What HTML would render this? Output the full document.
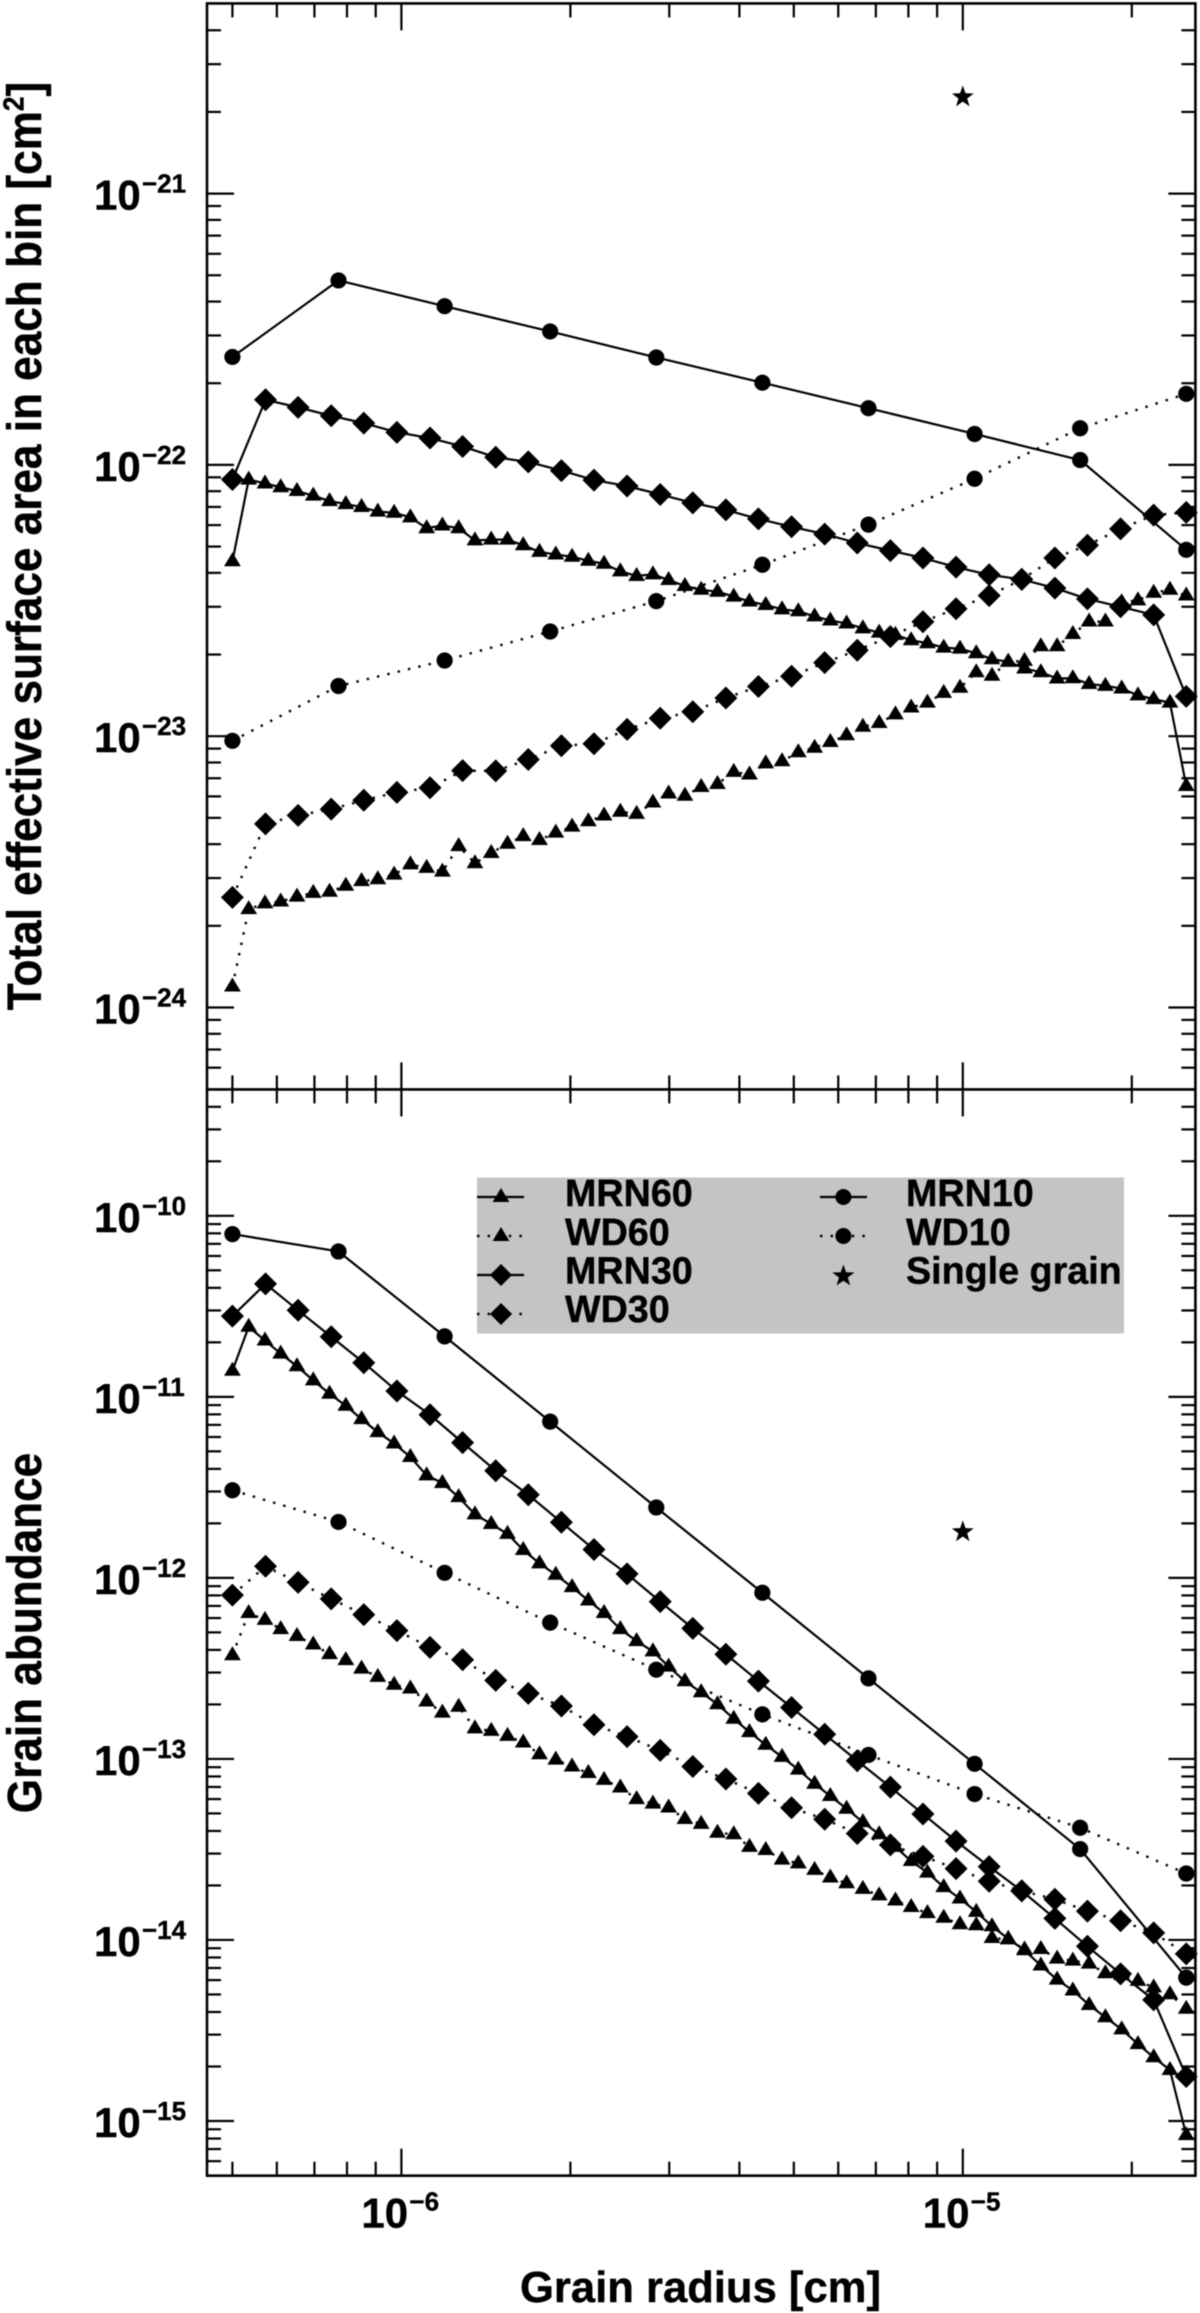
<!DOCTYPE html>
<html lang="en">
<head>
<meta charset="utf-8">
<title>Grain surface area and abundance</title>
<style>
html,body{margin:0;padding:0;background:#fff;width:1200px;height:2313px;overflow:hidden}
svg{display:block;font-family:"Liberation Sans",Arial,sans-serif;font-weight:bold;fill:#000;filter:blur(0.5px)}
text{stroke:#000;stroke-width:0.4px}
</style>
</head>
<body>
<svg id="chart" xmlns="http://www.w3.org/2000/svg" width="1200" height="2313" viewBox="0 0 1200 2313">
  <rect x="0" y="0" width="1200" height="2313" fill="#fff"/>
  <g id="plot-layer"></g>

  <text transform="translate(41,546) rotate(-90) scale(1.012,1.1)" text-anchor="middle" font-size="43.6">Total effective surface area in each bin [cm<tspan font-size="26" dy="-16">2</tspan><tspan dy="16">]</tspan></text>
  <text transform="translate(41,1633) rotate(-90) scale(1.012,1.1)" text-anchor="middle" font-size="43.6">Grain abundance</text>
  <text x="700.5" y="2302" text-anchor="middle" font-size="43.6">Grain radius [cm]</text>

  <g>
    <rect x="477" y="1177.5" width="647" height="156" fill="#c4c4c4"/>
    <g>
      <line x1="477" x2="524" y1="1197" y2="1197" stroke="#000" stroke-width="2.2"/>
      <path d="M492.6 1202L501 1188L509.4 1202Z"/>
      <text x="565" y="1206" font-size="37.7">MRN60</text>
    </g>
    <g>
      <line x1="477" x2="524" y1="1236" y2="1236" stroke="#000" stroke-width="2.4" stroke-dasharray="2.4 8.2"/>
      <path d="M492.6 1241L501 1227L509.4 1241Z"/>
      <text x="565" y="1245" font-size="37.7">WD60</text>
    </g>
    <g>
      <line x1="477" x2="524" y1="1275" y2="1275" stroke="#000" stroke-width="2.2"/>
      <path d="M490 1275L501 1264L512 1275L501 1286Z"/>
      <text x="565" y="1283.5" font-size="37.7">MRN30</text>
    </g>
    <g>
      <line x1="477" x2="524" y1="1314" y2="1314" stroke="#000" stroke-width="2.4" stroke-dasharray="2.4 8.2"/>
      <path d="M490 1314L501 1303L512 1314L501 1325Z"/>
      <text x="565" y="1322" font-size="37.7">WD30</text>
    </g>
    <g>
      <line x1="820" x2="867" y1="1197" y2="1197" stroke="#000" stroke-width="2.2"/>
      <circle cx="843.4" cy="1197" r="8"/>
      <text x="906" y="1206" font-size="37.7">MRN10</text>
    </g>
    <g>
      <line x1="820" x2="867" y1="1236" y2="1236" stroke="#000" stroke-width="2.4" stroke-dasharray="2.4 8.2"/>
      <circle cx="843.4" cy="1236" r="8"/>
      <text x="906" y="1245" font-size="37.7">WD10</text>
    </g>
    <g>
      <path d="M843.4 1264.5L846.1 1272.3L854.4 1272.5L847.8 1277.5L850.2 1285.4L843.4 1280.7L836.6 1285.4L839 1277.5L832.4 1272.5L840.7 1272.3Z"/>
      <text x="906" y="1283.5" font-size="37.7">Single grain</text>
    </g>
  </g>
  <g id="frame-layer"></g>
</svg>

<script>
// log10 of grain radius [cm] for each size-bin count
const logRadius10 = [-6.301,-6.112,-5.923,-5.735,-5.546,-5.357,-5.168,-4.979,-4.791,-4.602];
const logRadius30 = [-6.301,-6.242,-6.184,-6.125,-6.067,-6.008,-5.949,-5.891,-5.832,-5.774,-5.715,-5.657,-5.598,-5.539,-5.481,-5.422,-5.364,-5.305,-5.246,-5.188,-5.129,-5.071,-5.012,-4.953,-4.895,-4.836,-4.778,-4.719,-4.660,-4.602];
const logRadius60 = [-6.301,-6.272,-6.243,-6.215,-6.186,-6.157,-6.128,-6.099,-6.071,-6.042,-6.013,-5.984,-5.955,-5.927,-5.898,-5.869,-5.840,-5.811,-5.783,-5.754,-5.725,-5.696,-5.667,-5.639,-5.610,-5.581,-5.552,-5.524,-5.495,-5.466,-5.437,-5.408,-5.380,-5.351,-5.322,-5.293,-5.264,-5.236,-5.207,-5.178,-5.149,-5.120,-5.092,-5.063,-5.034,-5.005,-4.976,-4.948,-4.919,-4.890,-4.861,-4.832,-4.804,-4.775,-4.746,-4.717,-4.688,-4.660,-4.631,-4.602];

// top panel: log10 total effective surface area [cm^2]
const areaMRN10 = [-21.602,-21.320,-21.415,-21.508,-21.604,-21.697,-21.791,-21.886,-21.982,-22.313];
const areaWD10 = [-23.017,-22.815,-22.721,-22.614,-22.502,-22.368,-22.220,-22.051,-21.865,-21.738];
const areaMRN30 = [-22.054,-21.760,-21.788,-21.819,-21.846,-21.880,-21.901,-21.932,-21.972,-21.989,-22.021,-22.056,-22.078,-22.109,-22.140,-22.166,-22.199,-22.228,-22.255,-22.288,-22.316,-22.343,-22.377,-22.405,-22.422,-22.454,-22.494,-22.523,-22.553,-22.853];
const areaWD30 = [-23.594,-23.323,-23.292,-23.269,-23.236,-23.207,-23.190,-23.127,-23.128,-23.086,-23.035,-23.028,-22.975,-22.934,-22.910,-22.859,-22.817,-22.779,-22.729,-22.683,-22.633,-22.578,-22.530,-22.482,-22.422,-22.343,-22.296,-22.236,-22.185,-22.175];
const areaMRN60 = [-22.348,-22.047,-22.061,-22.075,-22.089,-22.106,-22.126,-22.137,-22.148,-22.165,-22.169,-22.186,-22.226,-22.216,-22.226,-22.271,-22.268,-22.268,-22.289,-22.313,-22.323,-22.331,-22.346,-22.357,-22.385,-22.402,-22.396,-22.417,-22.439,-22.453,-22.460,-22.478,-22.496,-22.509,-22.525,-22.532,-22.551,-22.566,-22.577,-22.595,-22.611,-22.619,-22.639,-22.650,-22.666,-22.670,-22.687,-22.709,-22.718,-22.743,-22.757,-22.780,-22.779,-22.800,-22.807,-22.817,-22.842,-22.856,-22.869,-23.176];
const areaWD60 = [-23.915,-23.630,-23.609,-23.602,-23.584,-23.570,-23.566,-23.544,-23.527,-23.520,-23.503,-23.465,-23.478,-23.492,-23.398,-23.461,-23.423,-23.389,-23.361,-23.375,-23.348,-23.326,-23.306,-23.285,-23.271,-23.279,-23.237,-23.204,-23.212,-23.180,-23.169,-23.124,-23.134,-23.093,-23.085,-23.052,-23.035,-23.014,-22.989,-22.958,-22.944,-22.912,-22.887,-22.869,-22.833,-22.814,-22.757,-22.770,-22.718,-22.715,-22.661,-22.661,-22.616,-22.570,-22.570,-22.499,-22.492,-22.464,-22.453,-22.474];
const areaSingle = [-20.644];

// bottom panel: log10 grain abundance
const abundMRN10 = [-10.101,-10.197,-10.666,-11.137,-11.611,-12.082,-12.555,-13.027,-13.498,-14.208];
const abundWD10 = [-11.516,-11.691,-11.972,-12.247,-12.507,-12.754,-12.978,-13.194,-13.380,-13.633];
const abundMRN30 = [-10.554,-10.376,-10.522,-10.668,-10.812,-10.968,-11.099,-11.253,-11.408,-11.541,-11.693,-11.843,-11.978,-12.131,-12.279,-12.422,-12.570,-12.716,-12.864,-13.010,-13.156,-13.304,-13.454,-13.595,-13.729,-13.881,-14.035,-14.187,-14.331,-14.754];
const abundWD30 = [-12.095,-11.936,-12.025,-12.116,-12.203,-12.291,-12.384,-12.452,-12.566,-12.638,-12.708,-12.811,-12.877,-12.953,-13.042,-13.111,-13.190,-13.270,-13.333,-13.412,-13.475,-13.538,-13.606,-13.676,-13.729,-13.775,-13.841,-13.894,-13.961,-14.077];
const abundMRN60 = [-10.845,-10.602,-10.678,-10.750,-10.820,-10.898,-10.972,-11.038,-11.112,-11.184,-11.247,-11.321,-11.423,-11.465,-11.543,-11.638,-11.691,-11.746,-11.835,-11.909,-11.972,-12.040,-12.114,-12.183,-12.272,-12.338,-12.395,-12.479,-12.560,-12.621,-12.687,-12.767,-12.841,-12.911,-12.978,-13.048,-13.126,-13.194,-13.264,-13.338,-13.405,-13.475,-13.553,-13.617,-13.697,-13.760,-13.834,-13.913,-13.982,-14.046,-14.130,-14.208,-14.268,-14.348,-14.416,-14.483,-14.564,-14.637,-14.707,-15.067];
const abundWD60 = [-12.416,-12.183,-12.221,-12.272,-12.310,-12.357,-12.410,-12.443,-12.490,-12.536,-12.579,-12.600,-12.672,-12.733,-12.701,-12.820,-12.834,-12.862,-12.898,-12.963,-12.993,-13.031,-13.067,-13.105,-13.147,-13.211,-13.236,-13.257,-13.321,-13.348,-13.397,-13.405,-13.475,-13.492,-13.545,-13.566,-13.602,-13.644,-13.676,-13.707,-13.743,-13.771,-13.807,-13.841,-13.866,-13.902,-13.908,-13.978,-13.986,-14.041,-14.039,-14.092,-14.103,-14.120,-14.173,-14.183,-14.215,-14.251,-14.289,-14.369];
const abundSingle = [-11.746];

// single-grain radius (log10 cm)
const logRadiusSingle = [-5];

// tick labels
const xDecades = [-6, -5];
const xTickLabels = ['\u22126', '\u22125'];
const topDecades = [-21, -22, -23, -24];
const topTickLabels = ['\u221221', '\u221222', '\u221223', '\u221224'];
const bottomDecades = [-10, -11, -12, -13, -14, -15];
const bottomTickLabels = ['\u221210', '\u221211', '\u221212', '\u221213', '\u221214', '\u221215'];

const NS = 'http://www.w3.org/2000/svg';
const plotLayer = document.getElementById('plot-layer');
const frameLayer = document.getElementById('frame-layer');

const frameLeft = 207, frameRight = 1195.4, frameTop = 3.4, frameMid = 1089.4, frameBottom = 2175.7;

function xScale(v) { return 401.4 + (v + 6) * 561.4; }
function yTop(v) { return 193.6 + (-21 - v) * 271.3; }
function yBottom(v) { return 1215.8 + (-10 - v) * 181.04; }

function make(tag, attrs, parent) {
  const el = document.createElementNS(NS, tag);
  for (const k in attrs) el.setAttribute(k, attrs[k]);
  parent.appendChild(el);
  return el;
}

function drawMarker(kind, x, y, parent) {
  let el;
  if (kind === 'circle') {
    el = make('circle', { cx: x.toFixed(2), cy: y.toFixed(2), r: 8.1 }, parent);
  } else if (kind === 'diamond') {
    const h = 11.5;
    el = make('path', { d: `M${x - h} ${y}L${x} ${y - h}L${x + h} ${y}L${x} ${y + h}Z` }, parent);
  } else if (kind === 'triangle') {
    el = make('path', { d: `M${x - 8.4} ${y + 7}L${x} ${y - 7}L${x + 8.4} ${y + 7}Z` }, parent);
  } else {
    let d = '';
    for (let i = 0; i < 10; i++) {
      const r = i % 2 ? 4.6 : 11.5;
      const a = -Math.PI / 2 + i * Math.PI / 5;
      d += (i ? 'L' : 'M') + (x + r * Math.cos(a)).toFixed(2) + ' ' + (y + r * Math.sin(a)).toFixed(2);
    }
    el = make('path', { d: d + 'Z' }, parent);
  }
  return el;
}

function drawSeries(name, xs, ys, yFn, kind, dotted) {
  const g = make('g', {}, plotLayer);
  
  
  // triangle symbols sit with the line below their mid-height
  const lineDrop = kind === 'triangle' ? 2 : 0;
  const pts = ys.map((v, i) => xScale(xs[i]).toFixed(2) + ',' + (yFn(v) + lineDrop).toFixed(2)).join(' ');
  const line = make('polyline', { points: pts, fill: 'none', stroke: '#000', 'stroke-width': dotted ? 2.4 : 2.2, 'stroke-linejoin': 'round' }, g);
  
  
  if (dotted) line.setAttribute('stroke-dasharray', '2.4 8.2');
  ys.forEach((v, i) => {
    const m = drawMarker(kind, xScale(xs[i]), yFn(v), g);
    
    
  });
}

function drawSingle(name, xs, ys, yFn) {
  const m = drawMarker('star', xScale(xs[0]), yFn(ys[0]), plotLayer);
  
  
}

drawSeries('top-mrn60', logRadius60, areaMRN60, yTop, 'triangle', false);
drawSeries('top-wd60', logRadius60, areaWD60, yTop, 'triangle', true);
drawSeries('top-mrn30', logRadius30, areaMRN30, yTop, 'diamond', false);
drawSeries('top-wd30', logRadius30, areaWD30, yTop, 'diamond', true);
drawSeries('top-mrn10', logRadius10, areaMRN10, yTop, 'circle', false);
drawSeries('top-wd10', logRadius10, areaWD10, yTop, 'circle', true);
drawSingle('top-single-grain', logRadiusSingle, areaSingle, yTop);

drawSeries('bottom-mrn60', logRadius60, abundMRN60, yBottom, 'triangle', false);
drawSeries('bottom-wd60', logRadius60, abundWD60, yBottom, 'triangle', true);
drawSeries('bottom-mrn30', logRadius30, abundMRN30, yBottom, 'diamond', false);
drawSeries('bottom-wd30', logRadius30, abundWD30, yBottom, 'diamond', true);
drawSeries('bottom-mrn10', logRadius10, abundMRN10, yBottom, 'circle', false);
drawSeries('bottom-wd10', logRadius10, abundWD10, yBottom, 'circle', true);
drawSingle('bottom-single-grain', logRadiusSingle, abundSingle, yBottom);

function tickLine(x1, y1, x2, y2) {
  const t = make('line', { x1: x1.toFixed(2), y1: y1.toFixed(2), x2: x2.toFixed(2), y2: y2.toFixed(2), stroke: '#000', 'stroke-width': 2.2 }, frameLayer);
  
  
}

const MAJOR = 27, MINOR = 14;

function eachLogTick(lo, hi, fn) {
  for (let d = Math.floor(lo) - 1; d <= Math.ceil(hi); d++) {
    for (let m = 1; m <= 9; m++) {
      const v = d + Math.log10(m);
      if (v > lo + 0.002 && v < hi - 0.002) fn(v, m === 1);
    }
  }
}

// x ticks
eachLogTick(-6.346, -4.586, (v, major) => {
  const x = xScale(v), len = major ? MAJOR : MINOR;
  tickLine(x, frameTop, x, frameTop + len);
  tickLine(x, frameMid - len, x, frameMid + len);
  tickLine(x, frameBottom, x, frameBottom - len);
});
// y ticks
eachLogTick(-24.301, -20.3, (v, major) => {
  const y = yTop(v), len = major ? MAJOR : MINOR;
  tickLine(frameLeft, y, frameLeft + len, y);
  tickLine(frameRight, y, frameRight - len, y);
});
eachLogTick(-15.302, -9.302, (v, major) => {
  const y = yBottom(v), len = major ? MAJOR : MINOR;
  tickLine(frameLeft, y, frameLeft + len, y);
  tickLine(frameRight, y, frameRight - len, y);
});

// frame
[[frameTop], [frameMid], [frameBottom]].forEach(r => {
  const l = make('line', { x1: frameLeft - 1, x2: frameRight + 1, y1: r[0], y2: r[0], stroke: '#000', 'stroke-width': 2.6 }, frameLayer);
  
  
});
[frameLeft, frameRight].forEach(x => {
  const l = make('line', { x1: x, x2: x, y1: frameTop - 1, y2: frameBottom + 1, stroke: '#000', 'stroke-width': 2.6 }, frameLayer);
  
  
});

function powerLabel(name, x, y, sup) {
  const g = make('g', {}, frameLayer);
  
  
  const a = make('text', { x: x, y: y, 'font-size': 42 }, g);
  a.textContent = '10';
  const b = make('text', { x: x + 48, y: y - 17, 'font-size': 26 }, g);
  b.textContent = sup;
}

topDecades.forEach((d, i) => {
  powerLabel('top-y-tick-label', 94, yTop(d) + 16, topTickLabels[i]);
});
bottomDecades.forEach((d, i) => {
  powerLabel('bottom-y-tick-label', 94, yBottom(d) + 16, bottomTickLabels[i]);
});
xDecades.forEach((d, i) => {
  powerLabel('x-tick-label', xScale(d) - 40, 2227.7, xTickLabels[i]);
});
</script>
</body>
</html>
